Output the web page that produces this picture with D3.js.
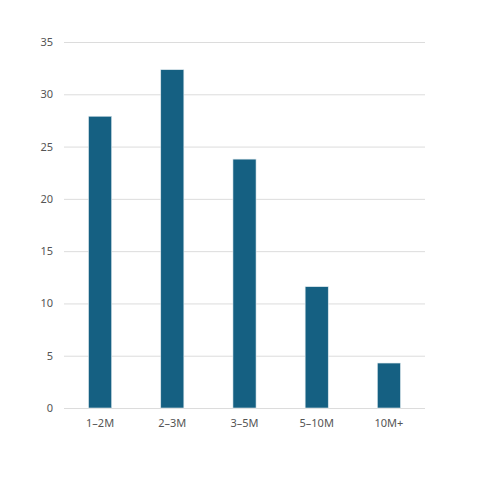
<!DOCTYPE html>
<html lang="en">
<head>
    <script src="https://cdn.jsdelivr.net/npm/d3@7/dist/d3.min.js"></script>
    <style>
        body { margin: 0; background: #fff; }
        .tick text { font-family: "Noto Sans", "Open Sans", sans-serif; font-size: 11px; fill: #555; }
    </style>
</head>
<body>
    <div id="chart"></div>
    <script>
        const categories = ["1–2M", "2–3M", "3–5M", "5–10M", "10M+"];
        const values = [27.9, 32.35, 23.8, 11.6, 4.3];
        const yTicks = [0, 5, 10, 15, 20, 25, 30, 35];

        const width = 480, height = 489;
        const margin = { top: 42, right: 55, bottom: 81, left: 64 };

        const svg = d3.select("#chart").append("svg")
            .attr("width", width)
            .attr("height", height);

        const x = d3.scaleBand()
            .domain(categories)
            .range([margin.left, width - margin.right])
            .paddingInner(0.68)
            .paddingOuter(0.34);

        const y = d3.scaleLinear()
            .domain([0, 35])
            .range([height - margin.bottom, margin.top]);

        // gridlines + y labels
        const yAxis = svg.append("g")
            .attr("transform", `translate(${margin.left},0)`)
            .call(d3.axisLeft(y).tickValues(yTicks).tickSize(-(width - margin.left - margin.right)).tickPadding(11));
        yAxis.select(".domain").remove();
        yAxis.selectAll(".tick line").attr("stroke", "#dcdcdc").attr("stroke-width", 1);

        svg.append("g")
            .selectAll("rect")
            .data(values)
            .join("rect")
            .attr("x", (d, i) => x(categories[i]))
            .attr("y", d => y(d))
            .attr("width", x.bandwidth())
            .attr("height", d => y(0) - y(d))
            .attr("fill", "#156082")
            .attr("stroke", "#dfe9ee")
            .attr("stroke-width", 0.6);

        const xAxis = svg.append("g")
            .attr("transform", `translate(0,${y(0)})`)
            .call(d3.axisBottom(x).tickSize(0).tickPadding(11));
        xAxis.select(".domain").remove();
    </script>
</body>
</html>
